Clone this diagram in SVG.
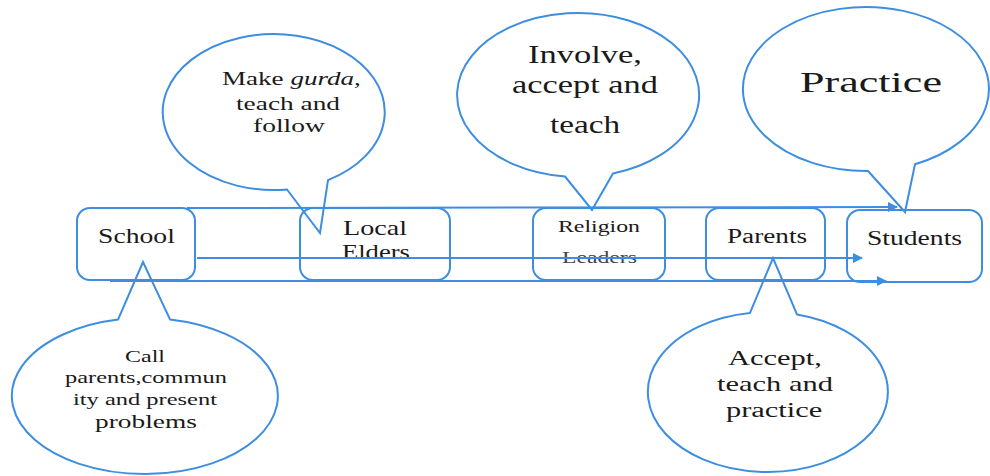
<svg xmlns="http://www.w3.org/2000/svg" width="990" height="476" viewBox="0 0 990 476">
<defs>
<style>
.box{fill:none;stroke:#3d8ee0;stroke-width:2}
.bub{fill:#fff;stroke:#3d8ee0;stroke-width:2;stroke-linejoin:miter}
.ln{fill:none;stroke:#3d8ee0;stroke-width:2}
</style>
<marker id="ah" viewBox="0 0 10 10" refX="9" refY="5" markerWidth="6" markerHeight="5" markerUnits="strokeWidth" orient="auto">
<path d="M0,0 L10,5 L0,10 Z" fill="#3d8ee0"/>
</marker>
</defs>
<rect width="990" height="476" fill="#fff"/>

<g id="callout-make-gurda">
<path class="bub" d="M287,189.5 L320,233 L328,180.1 A111,78 0 1 0 287,189.5 Z"/>
<text transform="translate(222,85) scale(1.426,1)" font-family="Liberation Serif" fill="#1a1a1a" font-size="19">Make <tspan font-style="italic">gurda,</tspan></text>
<text transform="translate(236,110) scale(1.44,1)" font-family="Liberation Serif" fill="#1a1a1a" font-size="19">teach and</text>
<text transform="translate(253,132) scale(1.45,1)" font-family="Liberation Serif" fill="#1a1a1a" font-size="19">follow</text>
</g>

<g id="callout-involve">
<path class="bub" d="M565,176.5 L592,210 L613,173.5 A121,82 0 1 0 565,176.5 Z"/>
<text transform="translate(528,63) scale(1.38,1)" font-family="Liberation Serif" fill="#1a1a1a" font-size="25">Involve,</text>
<text transform="translate(512,93) scale(1.375,1)" font-family="Liberation Serif" fill="#1a1a1a" font-size="25">accept and</text>
<text transform="translate(550,133) scale(1.33,1)" font-family="Liberation Serif" fill="#1a1a1a" font-size="25">teach</text>
</g>

<g id="callout-practice">
<path class="bub" d="M868,171 L905,212 L915,164.2 A123,82 0 1 0 868,171 Z"/>
<text transform="translate(800,92) scale(1.47,1)" font-family="Liberation Serif" fill="#1a1a1a" font-size="30">Practice</text>
</g>

<g id="callout-call">
<path class="bub" d="M118,319.6 L143,262 L170,319.4 A133,78 0 1 1 118,319.6 Z"/>
<text transform="translate(125,362) scale(1.5,1)" font-family="Liberation Serif" fill="#1a1a1a" font-size="16">Call</text>
<text transform="translate(65,383) scale(1.525,1)" font-family="Liberation Serif" fill="#1a1a1a" font-size="16">parents,commun</text>
<text transform="translate(73,405) scale(1.53,1)" font-family="Liberation Serif" fill="#1a1a1a" font-size="16">ity and present</text>
<text transform="translate(95,428) scale(1.44,1)" font-family="Liberation Serif" fill="#1a1a1a" font-size="19">problems</text>
</g>

<g id="callout-accept">
<path class="bub" d="M750,312.9 L773,258 L797,314.4 A120,80 0 1 1 750,312.9 Z"/>
<text transform="translate(728,365) scale(1.525,1)" font-family="Liberation Serif" fill="#1a1a1a" font-size="20">Accept,</text>
<text transform="translate(717,391) scale(1.525,1)" font-family="Liberation Serif" fill="#1a1a1a" font-size="20">teach and</text>
<text transform="translate(726,417) scale(1.52,1)" font-family="Liberation Serif" fill="#1a1a1a" font-size="20">practice</text>
</g>

<g id="school">
<rect class="box" x="77" y="208" width="118" height="72" rx="13"/>
<text transform="translate(98,243) scale(1.385,1)" font-family="Liberation Serif" fill="#1a1a1a" font-size="20">School</text>
</g>

<g id="local-elders">
<rect class="box" x="300" y="208" width="150" height="72" rx="13"/>
<text transform="translate(343,235) scale(1.406,1)" font-family="Liberation Serif" fill="#1a1a1a" font-size="20">Local</text>
<text transform="translate(342,259) scale(1.33,1)" font-family="Liberation Serif" fill="#1a1a1a" font-size="20">Elders</text>
</g>

<g id="religion-leaders">
<rect class="box" x="533" y="208" width="132" height="72" rx="13"/>
<text transform="translate(558,232) scale(1.488,1)" font-family="Liberation Serif" fill="#1a1a1a" font-size="16">Religion</text>
<text transform="translate(562,263) scale(1.48,1)" font-family="Liberation Serif" fill="#444" font-size="16">Leaders</text>
</g>

<g id="parents">
<rect class="box" x="706" y="208" width="119" height="72" rx="13"/>
<text transform="translate(727,243) scale(1.36,1)" font-family="Liberation Serif" fill="#1a1a1a" font-size="20">Parents</text>
</g>

<g id="students">
<rect class="box" x="847" y="210" width="135" height="72" rx="13"/>
<text transform="translate(867,245) scale(1.38,1)" font-family="Liberation Serif" fill="#1a1a1a" font-size="20">Students</text>
</g>

<g id="connectors">
<line class="ln" x1="187" y1="208" x2="897" y2="207" marker-end="url(#ah)"/>
<line class="ln" x1="197" y1="258" x2="862" y2="258" marker-end="url(#ah)"/>
<line class="ln" x1="110" y1="281" x2="886" y2="281" marker-end="url(#ah)"/>
</g>
</svg>
